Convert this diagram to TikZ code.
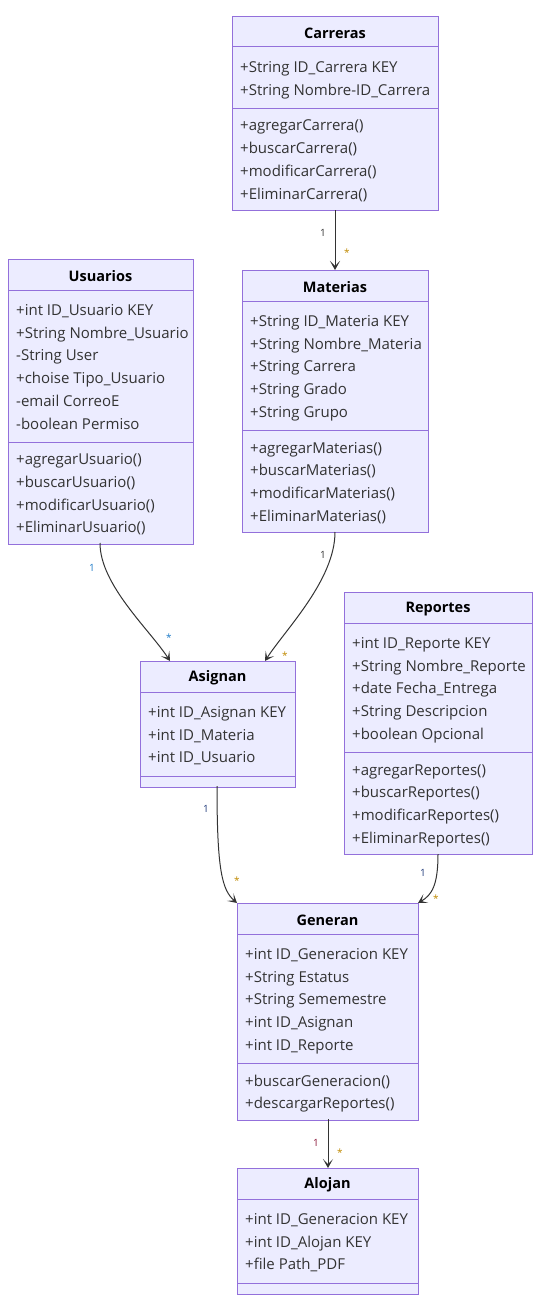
\documentclass[tikz,border=0pt]{standalone}
\usepackage{fontspec}
\setmainfont{Open Sans}
\usetikzlibrary{arrows.meta}
\definecolor{boxfill}{HTML}{ECECFF}
\definecolor{boxline}{HTML}{9370DB}
\definecolor{txt}{HTML}{333333}
\definecolor{edgec}{HTML}{333333}
\definecolor{starc}{HTML}{C08A00}
\definecolor{oneblue}{HTML}{1E7BC8}
\definecolor{onenavy}{HTML}{1F3A7A}
\definecolor{onered}{HTML}{8A1538}
\tikzset{
  classbox/.style={draw=boxline, fill=boxfill, line width=1pt, inner sep=0pt},
  divline/.style={draw=boxline, line width=1pt},
  titletxt/.style={font=\fontsize{14.5}{16}\selectfont\bfseries, text=black, inner sep=0pt, anchor=center},
  membertxt/.style={font=\fontsize{15}{17}\selectfont, text=txt, inner sep=0pt, anchor=west, text height=10.5pt, text depth=3.5pt},
  edge/.style={draw=edgec, line width=1pt, -{Stealth[length=9pt, width=10pt, inset=5pt]}},
  lbl/.style={font=\fontsize{10}{12}\selectfont, inner sep=0pt},
}
\newcommand\umlclass[9]{%
  % #1 id, #2 x, #3 ytop, #4 width, #5 n attrs, #6 n methods, #7 title, #8 attrs, #9 methods
  \pgfmathsetmacro\uch{58+(#5+#6)*22.7}
  \pgfmathsetmacro\ucmid{#2+#4/2}
  \pgfmathsetmacro\ucda{#3+31}
  \pgfmathsetmacro\ucdb{#3+47+#5*22.7}
  \pgfmathsetmacro\uctx{#2+8}
  \node[classbox, minimum width=#4pt, minimum height=\uch pt, anchor=north west] (#1) at (#2,#3) {};
  \node[titletxt] (#1-title) at (\ucmid,#3+17) {#7};
  \draw[divline] (#2,\ucda) -- ++(#4,0);
  \draw[divline] (#2,\ucdb) -- ++(#4,0);
  \foreach \a [count=\i] in {#8} {
    \pgfmathsetmacro\ucy{\ucda+22+(\i-1)*22.7}
    \node[membertxt] (#1-a\i) at (\uctx,\ucy) {\a};
  }
  \foreach \m [count=\j] in {#9} {
    \pgfmathsetmacro\ucy{\ucdb+19+(\j-1)*22.7}
    \node[membertxt] (#1-m\j) at (\uctx,\ucy) {\m};
  }
}
\begin{document}
\begin{tikzpicture}[x=1pt, y=-1pt]
\useasboundingbox[fill=white] (0,0) rectangle (548,1311);

\umlclass{car}{232}{16}{206}{2}{4}{Carreras}
  {+String ID\_Carrera KEY, +String Nombre-ID\_Carrera}
  {+agregarCarrera(), +buscarCarrera(), +modificarCarrera(), +EliminarCarrera()}

\umlclass{mat}{242}{270}{186}{5}{4}{Materias}
  {+String ID\_Materia KEY, +String Nombre\_Materia, +String Carrera, +String Grado, +String Grupo}
  {+agregarMaterias(), +buscarMaterias(), +modificarMaterias(), +EliminarMaterias()}

\umlclass{usu}{8}{259}{185}{6}{4}{Usuarios}
  {+int ID\_Usuario KEY, +String Nombre\_Usuario, -String User, +choise Tipo\_Usuario, -email CorreoE, -boolean Permiso}
  {+agregarUsuario(), +buscarUsuario(), +modificarUsuario(), +EliminarUsuario()}

\umlclass{rep}{344}{592}{188}{5}{4}{Reportes}
  {+int ID\_Reporte KEY, +String Nombre\_Reporte, +date Fecha\_Entrega, +String Descripcion, +boolean Opcional}
  {+agregarReportes(), +buscarReportes(), +modificarReportes(), +EliminarReportes()}

\umlclass{asi}{140}{661}{155}{3}{0}{Asignan}
  {+int ID\_Asignan KEY, +int ID\_Materia, +int ID\_Usuario}
  {}

\umlclass{gen}{237}{903}{181}{5}{2}{Generan}
  {+int ID\_Generacion KEY, +String Estatus, +String Sememestre, +int ID\_Asignan, +int ID\_Reporte}
  {+buscarGeneracion(), +descargarReportes()}

\umlclass{alo}{237}{1168}{181}{3}{0}{Alojan}
  {+int ID\_Generacion KEY, +int ID\_Alojan KEY, +file Path\_PDF}
  {}

% connectors
\coordinate (carS) at (335,210);
\coordinate (matN) at (335,270);
\draw[edge] (carS) -- (matN);
\node[lbl, text=edgec] (l1a) at (323,233) {1};
\node[lbl, text=starc] (l1b) at (347,253) {*};

\coordinate (usuS) at (100,543);
\coordinate (asiNa) at (170,661);
\draw[edge] (usuS) .. controls (100,585) and (150,630) .. (asiNa);
\node[lbl, text=oneblue] (l2a) at (92,568) {1};
\node[lbl, text=oneblue] (l2b) at (169,638) {*};

\coordinate (matS) at (335,532);
\coordinate (asiNb) at (265,661);
\draw[edge] (matS) .. controls (335,580) and (285,630) .. (asiNb);
\node[lbl, text=edgec] (l3a) at (323,555) {1};
\node[lbl, text=starc] (l3b) at (285,656) {*};

\coordinate (asiS) at (217,786);
\coordinate (genNa) at (237,903);
\draw[edge] (asiS) .. controls (217,870) and (222,890) .. (genNa);
\node[lbl, text=onenavy] (l4a) at (206,809) {1};
\node[lbl, text=starc] (l4b) at (237,881) {*};

\coordinate (repS) at (438,854);
\coordinate (genNb) at (418,903);
\draw[edge] (repS) .. controls (438,885) and (432,895) .. (genNb);
\node[lbl, text=onenavy] (l5a) at (423,873) {1};
\node[lbl, text=starc] (l5b) at (436,899) {*};

\coordinate (genS) at (328,1119);
\coordinate (aloN) at (328,1168);
\draw[edge] (genS) -- (aloN);
\node[lbl, text=onered] (l6a) at (316,1143) {1};
\node[lbl, text=starc] (l6b) at (340,1153) {*};
\end{tikzpicture}
\end{document}
